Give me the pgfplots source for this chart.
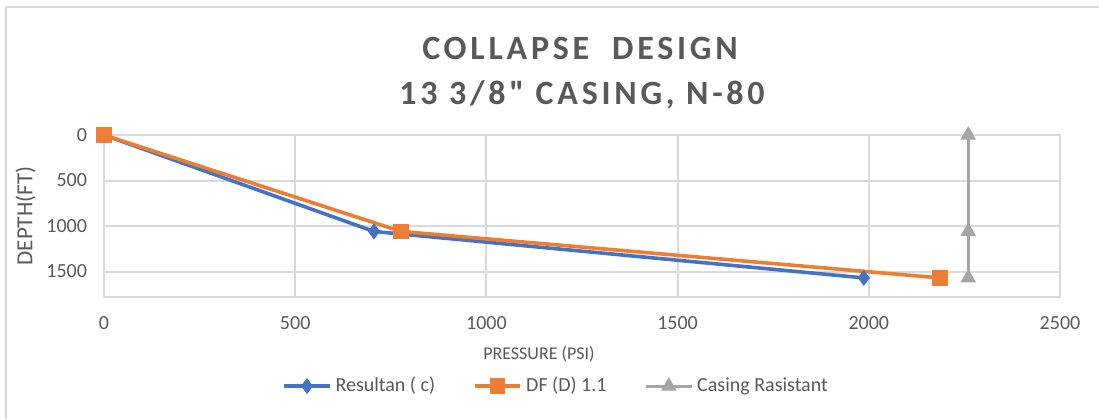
\documentclass[border=0pt]{standalone}
\usepackage{pgfplots}
\pgfplotsset{compat=1.18}
\usepackage{fontspec}
\setmainfont{Carlito}
\newfontfamily\titlefont{Carlito}[LetterSpace=11]
\definecolor{cblue}{HTML}{4472C4}
\definecolor{corange}{HTML}{ED7D31}
\definecolor{cgray}{HTML}{A5A5A5}
\definecolor{ctext}{HTML}{595959}
\definecolor{cgrid}{HTML}{D9D9D9}
\begin{document}
\begin{tikzpicture}[x=0.5pt,y=0.5pt]
\path[use as bounding box] (0,0) rectangle (1099,419);
\draw[cgrid,line width=1pt] (6,0) -- (6,412) -- (1099,412);
\node[text=ctext,font=\titlefont\fontsize{17}{20}\selectfont\bfseries] at (580,371) {COLLAPSE \ DESIGN};
\node[text=ctext,font=\titlefont\fontsize{17}{20}\selectfont\bfseries] at (582,324) {13 3/8" CASING, N-80};
\begin{axis}[
  at={(52pt,61pt)}, anchor=south west,
  width=478pt, height=81pt, scale only axis,
  xmin=0, xmax=2500, ymin=0, ymax=1780,
  y dir=reverse,
  xtick={0,500,1000,1500,2000,2500},
  ytick={0,500,1000,1500},
  grid=major,
  grid style={cgrid, line width=1pt},
  axis line style={cgrid, line width=1pt},
  tick style={draw=none},
  ticklabel style={text=ctext, font=\fontsize{10}{12}\selectfont},
  /pgf/number format/assume math mode=true,
  /pgf/number format/1000 sep={},
  xticklabel style={yshift=-6pt},
  yticklabel style={xshift=-5pt},
  xlabel={PRESSURE (PSI)},
  ylabel={DEPTH(FT)},
  label style={text=ctext, font=\fontsize{9}{11}\selectfont},
  xlabel style={at={(axis description cs:0.455,-0.35)}, anchor=center},
  ylabel style={at={(axis description cs:-0.082,0.5)}, anchor=center, rotate=0, font=\fontsize{11.5}{13}\selectfont},
  clip=false,
  legend columns=3,
  legend style={at={(axis description cs:0.474,-0.55)}, anchor=center, draw=none, fill=none,
    font=\fontsize{10}{12}\selectfont, text=ctext,
    /tikz/every even column/.append style={column sep=17pt}},
  legend image code/.code={\draw[#1] (0cm,0cm) -- (0.8cm,0cm); \draw[#1, mark repeat=1] plot coordinates {(0.4cm,0cm)};},
]
\addplot[cblue, line width=1.8pt, mark=diamond*, mark size=3.6pt, mark options={solid, fill=cblue, line width=0.5pt}] coordinates {(0,0) (706,1060) (1987,1570)};
\addlegendentry{Resultan ( c)}
\addplot[corange, line width=1.8pt, mark=square*, mark size=3.6pt, mark options={solid, fill=corange, line width=0.5pt}] coordinates {(0,0) (777,1060) (2186,1570)};
\addlegendentry{DF (D) 1.1}
\addplot[cgray, line width=1.6pt, mark=triangle*, mark size=4pt, mark options={solid, fill=cgray, line width=0.5pt}] coordinates {(2260,0) (2260,1060) (2260,1570)};
\addlegendentry{Casing Rasistant}
\end{axis}
\end{tikzpicture}
\end{document}
